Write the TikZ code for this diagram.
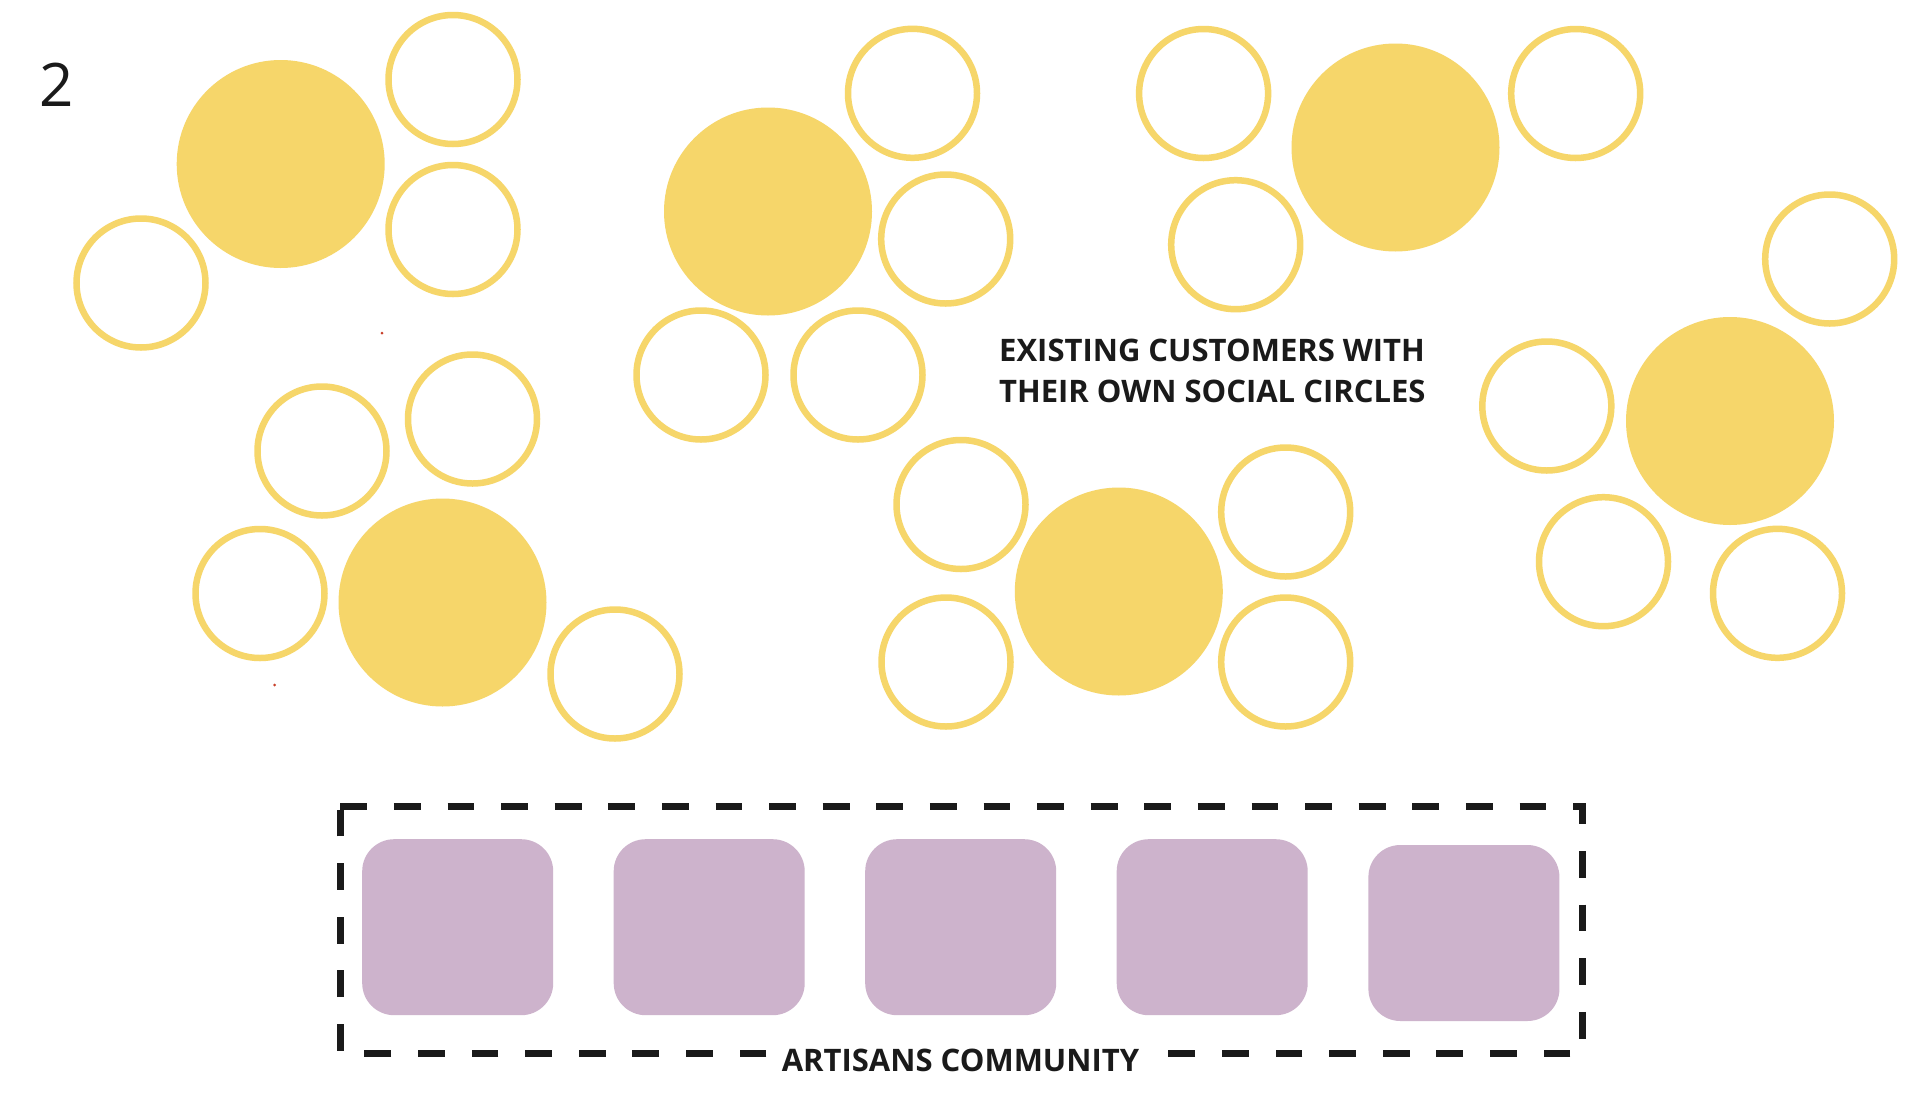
\documentclass[tikz,border=0pt]{standalone}
\usepackage{fontspec}
\setmainfont{Open Sans}
\definecolor{sun}{HTML}{F6D66A}
\definecolor{lilac}{HTML}{CDB3CC}
\definecolor{ink}{HTML}{1A1A1A}
\definecolor{dotred}{HTML}{C8402A}
\begin{document}
\begin{tikzpicture}[x=1pt,y=-1pt,
  bigc/.style={circle,fill=sun,inner sep=0pt,minimum size=208pt},
  smallc/.style={circle,draw=sun,line width=6.5pt,inner sep=0pt,minimum size=129pt},
  tile/.style={rectangle,rounded corners=32pt,fill=lilac,inner sep=0pt,minimum width=191pt,minimum height=176pt},
  dashbox/.style={rectangle,draw=none,inner sep=0pt,minimum width=1241.5pt,minimum height=246.6pt},
  dashline/.style={draw=ink,line width=6.7pt,dash pattern=on 26.8pt off 26.8pt},
  reddot/.style={circle,fill=dotred,inner sep=0pt,minimum size=3pt},
  lbl/.style={font=\bfseries\fontsize{31}{41}\selectfont,text=ink,inner sep=0pt}]
\fill[white] (0,0) rectangle (1920,1109);
\path[use as bounding box] (0,0) rectangle (1920,1109);

% number
\node[anchor=base west,inner sep=0pt,text=ink,font=\fontsize{60}{60}\selectfont] (num) at (39.5,106.7) {2};

% group 1
\node[bigc] (g1) at (280.7,164) {};
\node[smallc] (g1a) at (453,79.5) {};
\node[smallc] (g1b) at (453,229.5) {};
\node[smallc] (g1c) at (141,283) {};

% group 2
\node[bigc] (g2) at (442.5,602.5) {};
\node[smallc] (g2a) at (322,451) {};
\node[smallc] (g2b) at (472.5,419) {};
\node[smallc] (g2c) at (260,593.5) {};
\node[smallc] (g2d) at (615,674) {};
\node[reddot] (d1) at (382,333) {};
\node[reddot] (d2) at (274.6,685) {};

% group 3
\node[bigc] (g3) at (768,211.5) {};
\node[smallc] (g3a) at (912.5,93.3) {};
\node[smallc] (g3b) at (945.7,239) {};
\node[smallc] (g3c) at (701,375) {};
\node[smallc] (g3d) at (858,375) {};

% group 4
\node[bigc] (g4) at (1395.5,147.5) {};
\node[smallc] (g4a) at (1203.6,93.5) {};
\node[smallc] (g4b) at (1235.7,244.7) {};
\node[smallc] (g4c) at (1575.7,93.5) {};

% group 5
\node[bigc] (g5) at (1730,421) {};
\node[smallc] (g5a) at (1829.7,259) {};
\node[smallc] (g5b) at (1546.8,406) {};
\node[smallc] (g5c) at (1603.5,561.7) {};
\node[smallc] (g5d) at (1777.5,593.3) {};

% group 6
\node[bigc] (g6) at (1118.8,591.5) {};
\node[smallc] (g6a) at (961,504.5) {};
\node[smallc] (g6b) at (946,662) {};
\node[smallc] (g6c) at (1285.7,512) {};
\node[smallc] (g6d) at (1285.7,662) {};

% customers label
\node[lbl,anchor=base west,align=left] (cust) at (999,402) {EXISTING CUSTOMERS WITH\\THEIR OWN SOCIAL CIRCLES};

% artisans community
\node[dashbox] (box) at (961.25,930) {};
\draw[dashline] (box.north west) -- (box.north east) -- (box.south east) -- (box.south west) -- cycle;
\node[tile] (t1) at (457.7,927.2) {};
\node[tile] (t2) at (709.2,927.2) {};
\node[tile] (t3) at (960.7,927.2) {};
\node[tile] (t4) at (1212.2,927.2) {};
\node[tile] (t5) at (1463.9,933) {};
\node[lbl,anchor=base,fill=white,inner xsep=12pt,inner ysep=5pt] (art) at (960.5,1071.7) {ARTISANS COMMUNITY};
\end{tikzpicture}
\end{document}
